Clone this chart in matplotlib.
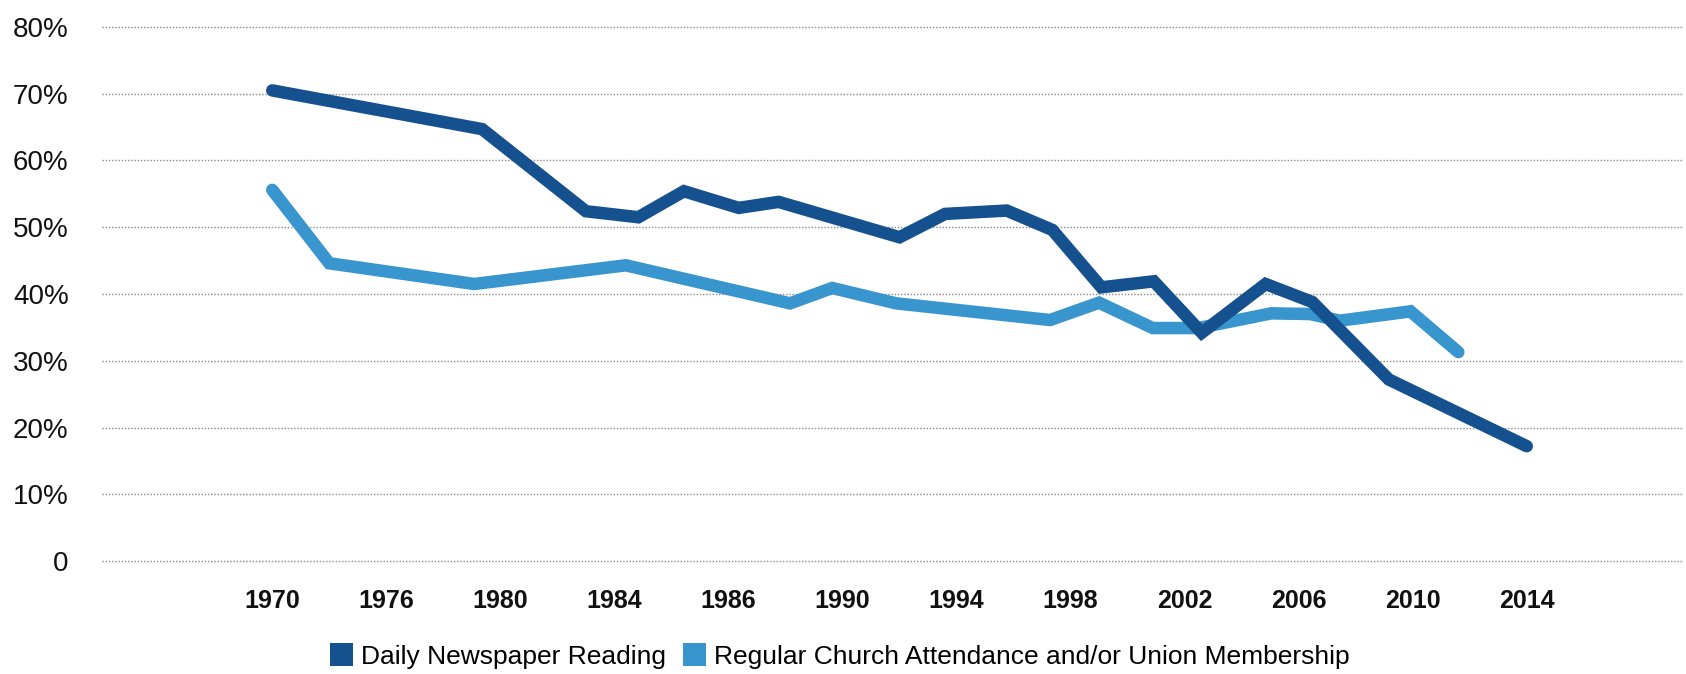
import matplotlib
matplotlib.use("Agg")
import matplotlib.pyplot as plt
from matplotlib.patches import Patch

# x positions are in "tick slot" units: slot 0 = 1970 label, slot 11 = 2014 label
tick_labels = ["1970", "1976", "1980", "1984", "1986", "1990",
               "1994", "1998", "2002", "2006", "2010", "2014"]

news_x = [0, 1.84, 2.75, 3.21, 3.61, 4.09, 4.44, 5.50, 5.90, 6.44, 6.84,
          7.27, 7.73, 8.15, 8.71, 9.12, 9.79, 11.0]
news_y = [70.5, 64.7, 52.4, 51.5, 55.4, 52.9, 53.8, 48.5, 52.0, 52.5, 49.6,
          41.0, 41.9, 34.2, 41.5, 38.8, 27.2, 17.2]

church_x = [0, 0.50, 1.77, 3.10, 4.54, 4.91, 5.47, 6.82, 7.25, 7.72, 8.12,
            8.76, 9.10, 9.36, 9.98, 10.40]
church_y = [55.6, 44.6, 41.5, 44.3, 38.6, 40.9, 38.6, 36.1, 38.7, 34.9, 34.9,
            37.1, 37.0, 36.0, 37.4, 31.3]

dark = "#15508F"
light = "#3895CD"

plt.rcParams['font.family'] = ['Liberation Sans', 'DejaVu Sans']

fig = plt.figure(figsize=(16.86, 6.74), dpi=100)
ax = fig.add_axes([102 / 1686, 113 / 674, (1683 - 102) / 1686, (647 - 113) / 674])

ax.plot(church_x, church_y, color=light, lw=9, solid_capstyle='round',
        solid_joinstyle='miter', zorder=3)
ax.plot(news_x, news_y, color=dark, lw=9, solid_capstyle='round',
        solid_joinstyle='miter', zorder=4)

ax.set_xlim(-1.493, 12.37)
ax.set_ylim(0, 80)

yt = list(range(0, 81, 10))
ax.set_yticks(yt)
ax.set_yticklabels(["0"] + ["{}%".format(v) for v in yt[1:]], fontsize=20, color="#111111")
ax.set_xticks(range(len(tick_labels)))
ax.set_xticklabels(tick_labels, fontsize=18, fontweight='bold', color="#111111")
ax.tick_params(axis='both', length=0)
ax.tick_params(axis='y', pad=24)
ax.tick_params(axis='x', pad=20)

# dotted horizontal grid, the 0 line included
for v in yt:
    ax.axhline(v, color="#8a8a8a", lw=1.0, linestyle=(0, (1, 1.3)), zorder=1, clip_on=False)

for s in ax.spines.values():
    s.set_visible(False)

handles = [Patch(facecolor=dark, edgecolor='none'), Patch(facecolor=light, edgecolor='none')]
fig.legend(handles, ["Daily Newspaper Reading",
                     "Regular Church Attendance and/or Union Membership"],
           loc='center', bbox_to_anchor=(0.498, 0.027), ncol=2, frameon=False,
           fontsize=19, handlelength=0.88, handleheight=0.95, handletextpad=0.3,
           columnspacing=0.65, borderpad=0, borderaxespad=0)

fig.savefig("out.png", dpi=100)
